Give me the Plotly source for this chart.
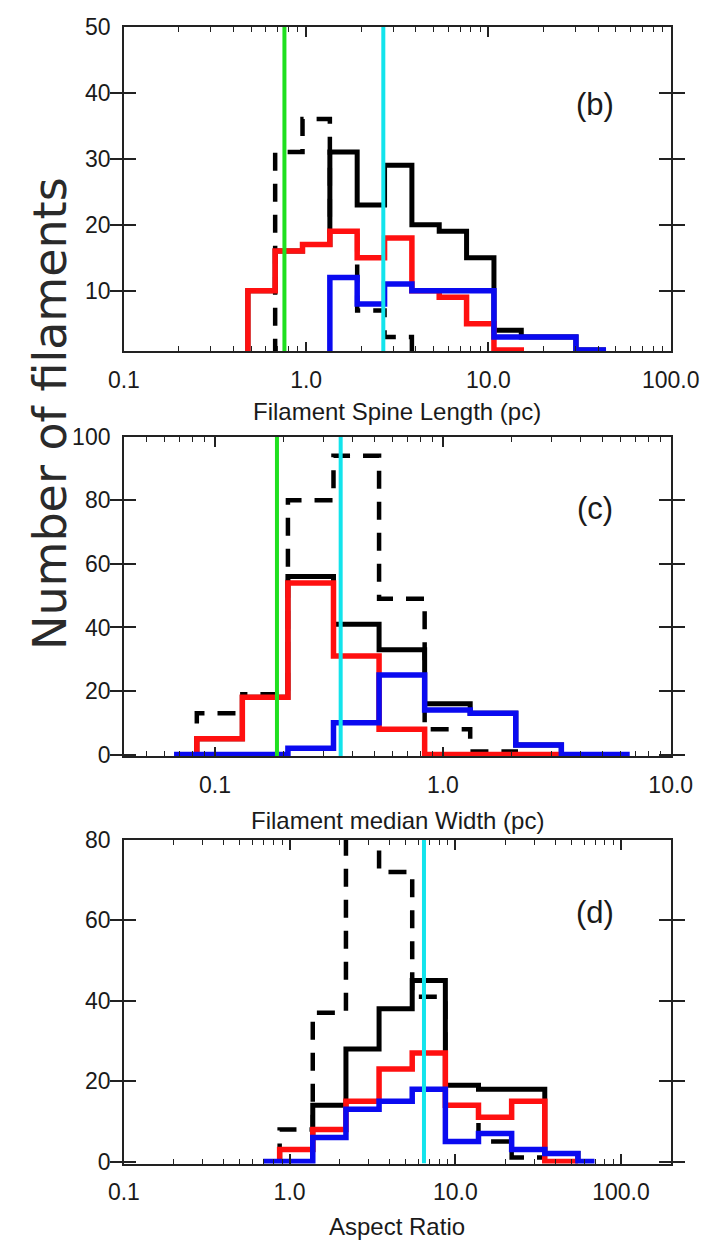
import plotly.graph_objects as go

# ---------------- panel (b): filament spine length (pc) ----------------
length_edges = [0.479, 0.676, 0.955, 1.349, 1.905, 2.692, 3.802, 5.370,
                7.586, 10.72, 15.14, 21.38, 30.20, 42.66]
length_red = [10, 16, 17, 19, 15, 18, 10, 9, 5, 1, None, None, None]
length_blue = [None, None, None, 12, 8, 11, 10, 10, 10, 3, 3, 3, 1]
length_total = [10, 16, 17, 31, 23, 29, 20, 19, 15, 4, 3, 3, 1]
length_dashed = [None, 31, 36, 19, 7, 3, None, None, None, None, None, None, None]
length_green = 0.76
length_cyan = 2.65

# ---------------- panel (c): filament median width (pc) ----------------
width_edges = [0.0661, 0.0832, 0.1318, 0.2089, 0.3311, 0.5248, 0.8318,
               1.318, 2.089, 3.311, 6.607]
width_red = [None, 5, 18, 54, 31, 8, 0, 0, 0, None]
width_blue = [0, 0, 0, 2, 10, 25, 14, 13, 3, 0]
width_total = [None, 5, 18, 56, 41, 33, 16, 13, 3, None]
width_dashed = [None, 13, 19, 80, 94, 49, 8, 1, None, None]
width_green = 0.187
width_cyan = 0.356

# ---------------- panel (d): aspect ratio ----------------
aspect_edges = [0.692, 0.871, 1.380, 2.188, 3.467, 5.495, 8.710, 13.80,
                21.88, 34.67, 54.95, 69.18]
aspect_red = [None, 3, 8, 15, 23, 27, 14, 11, 15, 0, None]
aspect_blue = [0, 0, 6, 13, 15, 18, 5, 7, 3, 2, 0]
aspect_total = [None, 3, 14, 28, 38, 45, 19, 18, 18, 2, None]
aspect_dashed = [None, 8, 37, 88, 72, 41, 14, 5, 1, None, None]
aspect_cyan = 6.47

# axis settings per panel
x_ticks_b = [0.1, 1, 10, 100]
x_ticks_c = [0.1, 1, 10]
x_ticks_d = [0.1, 1, 10, 100]
x_range_b = [-1, 2]
x_range_c = [-1.4, 1.0]
x_range_d = [-1, 2.3]
y_ticks_b = [10, 20, 30, 40, 50]
y_ticks_c = [0, 20, 40, 60, 80, 100]
y_ticks_d = [0, 20, 40, 60, 80]
y_range_b = [0.8, 50]
y_range_c = [-0.6, 100]
y_range_d = [-0.5, 80]

FONT = "Liberation Sans, Arial, sans-serif"
TXT = "#1a1a1a"
AX = "#222222"
RED = "#ff1010"
BLUE = "#0a0af0"
GREEN = "#1fe01f"
CYAN = "#12e4ec"


def step_path(edges, counts, base=0):
    """Histogram outline: vertical rise, flat top over each bin, drop at end."""
    xs, ys = [], []
    prev = None
    for i, c in enumerate(counts):
        if c is None:
            if prev is not None:
                xs += [edges[i], None]
                ys += [base, None]
            prev = None
            continue
        if prev is None:
            xs.append(edges[i])
            ys.append(base)
        xs += [edges[i], edges[i + 1]]
        ys += [c, c]
        prev = c
    if prev is not None:
        xs.append(edges[-1])
        ys.append(base)
    return xs, ys


def log_minor(rng):
    """2..9 multiples of each decade inside a log10 range."""
    vals = []
    for e in range(int(rng[0]) - 2, int(rng[1]) + 1):
        for m in range(2, 10):
            v = m * 10.0 ** e
            if 10 ** rng[0] < v < 10 ** rng[1]:
                vals.append(v)
    return vals


fig = go.Figure()


def add_panel(n, edges, dashed, total, red, blue, yr, green=None, cyan=None):
    xa, ya = ("x", "y") if n == 1 else (f"x{n}", f"y{n}")
    series = [
        (dashed, dict(color="black", width=4.5, dash="18px,13px")),
        (total, dict(color="black", width=5)),
        (red, dict(color=RED, width=5.5)),
        (blue, dict(color=BLUE, width=5.5)),
    ]
    for counts, line in series:
        xs, ys = step_path(edges, counts)
        fig.add_trace(go.Scatter(x=xs, y=ys, mode="lines", line=line,
                                 xaxis=xa, yaxis=ya, showlegend=False,
                                 hoverinfo="skip"))
    for val, col in ((green, GREEN), (cyan, CYAN)):
        if val is None:
            continue
        fig.add_trace(go.Scatter(x=[val, val], y=[yr[0], yr[1]], mode="lines",
                                 line=dict(color=col, width=4),
                                 xaxis=xa, yaxis=ya, showlegend=False,
                                 hoverinfo="skip"))
    # empty trace that carries the minor-tick overlay axis
    fig.add_trace(go.Scatter(x=[None], y=[None], mode="lines",
                             xaxis=f"x{n + 3}", yaxis=ya, showlegend=False,
                             hoverinfo="skip"))


add_panel(1, length_edges, length_dashed, length_total, length_red, length_blue,
          y_range_b, length_green, length_cyan)
add_panel(2, width_edges, width_dashed, width_total, width_red, width_blue,
          y_range_c, width_green, width_cyan)
add_panel(3, aspect_edges, aspect_dashed, aspect_total, aspect_red, aspect_blue,
          y_range_d, None, aspect_cyan)

W, H = 726, 1254
x_dom = [115 / W, 698 / W]
doms = {1: (14, 345), 2: (432, 758), 3: (843, 1173)}


def xaxis(rng, tickvals, anchor):
    return dict(
        type="log", range=rng, domain=x_dom, anchor=anchor,
        tickvals=tickvals, ticktext=[f"{v:.1f}" for v in tickvals],
        ticks="inside", ticklen=10, tickwidth=1.5, tickcolor=AX,
        showline=True, linecolor=AX, linewidth=1.6, mirror="allticks",
        showgrid=False, zeroline=False, ticklabelstandoff=7,
        tickfont=dict(family=FONT, size=23, color=TXT),
    )


def minor_axis(rng, over, anchor):
    return dict(
        type="log", range=rng, domain=x_dom, anchor=anchor, overlaying=over,
        tickvals=log_minor(rng), showticklabels=False,
        ticks="inside", ticklen=5, tickwidth=1.2, tickcolor=AX,
        showline=False, mirror="ticks", showgrid=False, zeroline=False,
    )


def yaxis(rng, tickvals, anchor, top, bottom):
    return dict(
        range=rng, domain=[1 - bottom / H, 1 - top / H], anchor=anchor,
        tickvals=tickvals, ticks="inside", ticklen=12, tickwidth=1.5,
        tickcolor=AX, showline=True, linecolor=AX, linewidth=1.6,
        mirror="allticks", showgrid=False, zeroline=False, ticklabelstandoff=7,
        tickfont=dict(family=FONT, size=23, color=TXT),
    )


fig.update_layout(
    width=W, height=H, margin=dict(l=0, r=0, t=0, b=0),
    paper_bgcolor="white", plot_bgcolor="white",
    xaxis=xaxis(x_range_b, x_ticks_b, "y"),
    yaxis=yaxis(y_range_b, y_ticks_b, "x", *doms[1]),
    xaxis2=xaxis(x_range_c, x_ticks_c, "y2"),
    yaxis2=yaxis(y_range_c, y_ticks_c, "x2", *doms[2]),
    xaxis3=xaxis(x_range_d, x_ticks_d, "y3"),
    yaxis3=yaxis(y_range_d, y_ticks_d, "x3", *doms[3]),
    xaxis4=minor_axis(x_range_b, "x", "y"),
    xaxis5=minor_axis(x_range_c, "x2", "y2"),
    xaxis6=minor_axis(x_range_d, "x3", "y3"),
)

x_mid = (x_dom[0] + x_dom[1]) / 2
annots = [
    dict(text="Filament Spine Length (pc)", x=x_mid, y=1 - 406 / H, size=24),
    dict(text="Filament median Width (pc)", x=x_mid, y=1 - 823 / H, size=24),
    dict(text="Aspect Ratio", x=x_mid, y=1 - 1237 / H, size=24),
]
for a in annots:
    fig.add_annotation(text=a["text"], x=a["x"], y=a["y"], xref="paper",
                       yref="paper", showarrow=False, xanchor="center",
                       yanchor="middle",
                       font=dict(family=FONT, size=a["size"], color=TXT))

fig.add_annotation(text="Number of filaments", x=36 / W, y=1 - 408 / H,
                   xref="paper", yref="paper", showarrow=False, textangle=-90,
                   xanchor="center", yanchor="middle",
                   font=dict(family="DejaVu Sans, sans-serif", size=46,
                             color="#2a2a2a"))

for n, lab, yy in ((1, "(b)", 0.76), (2, "(c)", 0.776), (3, "(d)", 0.776)):
    xa = "x" if n == 1 else f"x{n}"
    ya = "y" if n == 1 else f"y{n}"
    fig.add_annotation(text=lab, x=0.861, y=yy, xref=f"{xa} domain",
                       yref=f"{ya} domain", showarrow=False,
                       xanchor="center", yanchor="middle",
                       font=dict(family=FONT, size=31, color=TXT))

fig.write_html("out.html")
